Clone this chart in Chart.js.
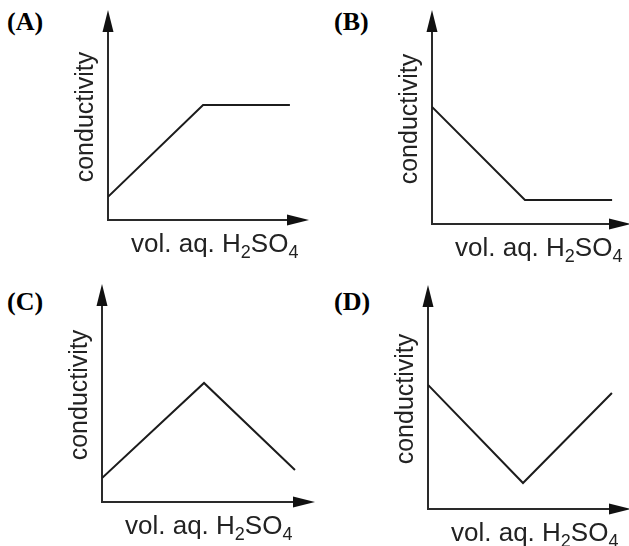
<!DOCTYPE html>
<html lang="en">
<head>
<meta charset="UTF-8">
<title>Conductivity vs vol. aq. H2SO4</title>
<script src="https://cdn.jsdelivr.net/npm/chart.js"></script>
<style>
  html, body { margin: 0; padding: 0; background: #fff; overflow: hidden; }
  body { width: 629px; height: 546px; position: relative; }
  canvas { position: absolute; }
  .tag { position: absolute; font: bold 26px "Liberation Serif", "Times New Roman", serif; color: #000; line-height: 1; }
</style>
</head>
<body>
<div class="tag" style="left:7px;top:9px">(A)</div>
<div class="tag" style="left:334px;top:9px">(B)</div>
<div class="tag" style="left:7px;top:289px">(C)</div>
<div class="tag" style="left:334px;top:289px">(D)</div>

<canvas id="chartA" width="315" height="270" style="left:0;top:0"></canvas>
<canvas id="chartB" width="325" height="270" style="left:315px;top:0"></canvas>
<canvas id="chartC" width="318" height="276" style="left:0;top:270px"></canvas>
<canvas id="chartD" width="325" height="276" style="left:315px;top:270px"></canvas>

<script>
// data (axis runs 0..10 up to the arrow tip)
const xA = [0, 4.73, 9.05];
const yA = [1.1, 5.48, 5.48];
const xB = [0, 4.67, 9.05];
const yB = [5.47, 1.12, 1.12];
const xC = [0, 4.79, 9.06];
const yC = [1.1, 5.46, 1.47];
const xD = [0, 4.68, 9.06];
const yD = [5.54, 1.16, 5.18];

const yLabel = "conductivity";
const xLabel = ["vol. aq. H", "2", "SO", "4"]; // odd entries are subscripts

const FONT = '"Liberation Sans", Arial, sans-serif';

// axes with arrow heads and the two axis labels
const sketchAxes = {
    id: "sketchAxes",
    beforeDatasetsDraw(chart) {
        const ctx = chart.ctx;
        const x = chart.scales.x, y = chart.scales.y;
        const ox = x.getPixelForValue(0), oy = y.getPixelForValue(0);
        const tx = x.getPixelForValue(10), ty = y.getPixelForValue(10);
        const len = 22, half = 5.5;

        ctx.save();
        ctx.strokeStyle = "#2a2a2a";
        ctx.fillStyle = "#111";
        ctx.lineWidth = 2;
        ctx.beginPath();
        ctx.moveTo(ox, ty + len - 2);
        ctx.lineTo(ox, oy);
        ctx.lineTo(tx - len + 2, oy);
        ctx.stroke();

        ctx.beginPath();
        ctx.moveTo(ox, ty);
        ctx.lineTo(ox - half, ty + len);
        ctx.lineTo(ox + half, ty + len);
        ctx.closePath();
        ctx.fill();

        ctx.beginPath();
        ctx.moveTo(tx, oy);
        ctx.lineTo(tx - len, oy - half);
        ctx.lineTo(tx - len, oy + half);
        ctx.closePath();
        ctx.fill();

        // y label
        ctx.fillStyle = "#222";
        ctx.font = "25px " + FONT;
        ctx.textAlign = "center";
        ctx.textBaseline = "middle";
        ctx.save();
        ctx.translate(ox - 22, (ty + oy) / 2 + 2);
        ctx.rotate(-Math.PI / 2);
        ctx.fillText(yLabel, 0, 0);
        ctx.restore();

        // x label with subscripts
        ctx.textAlign = "left";
        ctx.textBaseline = "alphabetic";
        let px = ox + 23;
        const base = oy + 32;
        xLabel.forEach((part, i) => {
            const sub = i % 2 === 1;
            ctx.font = (sub ? "18px " : "26px ") + FONT;
            ctx.fillText(part, px, sub ? base + 6 : base);
            px += ctx.measureText(part).width;
        });
        ctx.restore();
    }
};

function drawPanel(id, xs, ys, pad) {
    const points = xs.map((v, i) => ({ x: v, y: ys[i] }));
    new Chart(document.getElementById(id), {
        type: "line",
        data: {
            datasets: [{
                data: points,
                borderColor: "#1c1c1c",
                borderWidth: 2,
                pointRadius: 0,
                tension: 0,
                fill: false
            }]
        },
        options: {
            responsive: false,
            animation: false,
            layout: { padding: pad },
            plugins: { legend: { display: false }, tooltip: { enabled: false } },
            scales: {
                x: { type: "linear", min: 0, max: 10, display: false },
                y: { type: "linear", min: 0, max: 10, display: false }
            }
        },
        plugins: [sketchAxes]
    });
}

drawPanel("chartA", xA, yA, { left: 108, top: 10, right: 6, bottom: 50 });
drawPanel("chartB", xB, yB, { left: 117, top: 10, right: 9, bottom: 46 });
drawPanel("chartC", xC, yC, { left: 102, top: 14, right: 3, bottom: 44 });
drawPanel("chartD", xD, yD, { left: 113, top: 15, right: 9, bottom: 37 });
</script>
</body>
</html>
